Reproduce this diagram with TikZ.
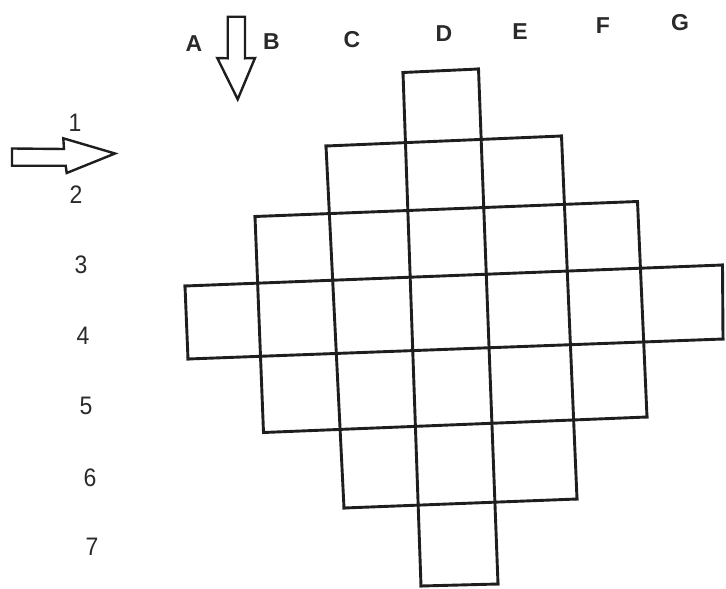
\documentclass[tikz,border=0pt]{standalone}
\usepackage{fontspec}
\setmainfont{Liberation Sans}
\definecolor{ink}{HTML}{1E1E1E}
\definecolor{txt}{HTML}{2A2A2A}
\begin{document}
\begin{tikzpicture}[x=1pt,y=-1pt,
  grid/.style={line width=2.9pt, draw=ink, line cap=rect},
  arrowline/.style={line width=2.4pt, draw=ink, fill=white, line join=miter},
  collabel/.style={text=txt, font=\fontsize{23}{25}\selectfont\bfseries, inner sep=0pt},
  rowlabel/.style={text=txt, font=\fontsize{23}{25}\selectfont, inner sep=0pt, yscale=1.1}]
\useasboundingbox (0,0) rectangle (726,589);
\fill[white] (0,0) rectangle (726,589);
% outer corners of the grid (column boundary i, row boundary j)
\coordinate (c30) at (403,72.5);
\coordinate (c40) at (478.5,69);
\coordinate (c21) at (326,146);
\coordinate (c51) at (561.5,136);
\coordinate (c12) at (255,216.5);
\coordinate (c62) at (637.5,201.5);
\coordinate (c03) at (185,286);
\coordinate (c73) at (722.5,265);
\coordinate (c04) at (188,359);
\coordinate (c74) at (723,339);
\coordinate (c15) at (263.5,432.5);
\coordinate (c65) at (647,417);
\coordinate (c26) at (344,508);
\coordinate (c56) at (577,499);
\coordinate (c37) at (421,586);
\coordinate (c47) at (498,584);
% horizontal lines
\draw[grid] (c30) -- (c40);
\draw[grid] (c21) -- (c51);
\draw[grid] (c12) -- (c62);
\draw[grid] (c03) -- (c73);
\draw[grid] (c04) -- (c74);
\draw[grid] (c15) -- (c65);
\draw[grid] (c26) -- (c56);
\draw[grid] (c37) -- (c47);
% vertical lines
\draw[grid] (c03) -- (c04);
\draw[grid] (c12) -- (c15);
\draw[grid] (c21) -- (c26);
\draw[grid] (c30) -- (c37);
\draw[grid] (c40) -- (c47);
\draw[grid] (c51) -- (c56);
\draw[grid] (c62) -- (c65);
\draw[grid] (c73) -- (c74);
% column labels
\node[collabel] (lA) at (194,44) {A};
\node[collabel] (lB) at (271.5,42) {B};
\node[collabel] (lC) at (352,40) {C};
\node[collabel] (lD) at (444,34) {D};
\node[collabel] (lE) at (520,32) {E};
\node[collabel] (lF) at (603,26) {F};
\node[collabel] (lG) at (680,23) {G};
% row labels
\node[rowlabel] (r1) at (75,123) {1};
\node[rowlabel] (r2) at (76,195) {2};
\node[rowlabel] (r3) at (81,265) {3};
\node[rowlabel] (r4) at (83,336) {4};
\node[rowlabel] (r5) at (86,406) {5};
\node[rowlabel] (r6) at (90,478) {6};
\node[rowlabel] (r7) at (92,547) {7};
% down arrow
\draw[arrowline] (227.7,16.7) -- (245,16.7) -- (245,58.3) -- (255,58) -- (237.7,99.3) -- (217.3,58) -- (227.7,58.3) -- cycle;
% right arrow
\draw[arrowline] (12,148.5) -- (64,149) -- (63.3,138.3) -- (115,153.5) -- (66.7,173) -- (65.7,165.7) -- (12,165.7) -- cycle;
\end{tikzpicture}
\end{document}
